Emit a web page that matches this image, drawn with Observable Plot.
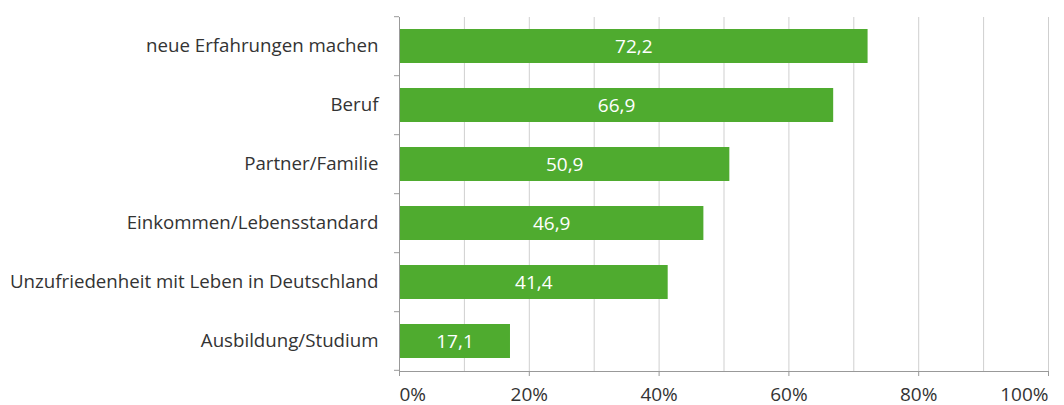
<!DOCTYPE html>
<html>
<head>
<meta charset="utf-8">
<script src="https://cdn.jsdelivr.net/npm/d3@7"></script>
<script src="https://cdn.jsdelivr.net/npm/@observablehq/plot@0.6"></script>
<style>
  html, body { margin: 0; padding: 0; background: #fff; }
  #chart svg { display: block; }
</style>
</head>
<body>
<div id="chart"></div>
<script>
const categories = [
  "neue Erfahrungen machen",
  "Beruf",
  "Partner/Familie",
  "Einkommen/Lebensstandard",
  "Unzufriedenheit mit Leben in Deutschland",
  "Ausbildung/Studium"
];
const values = [72.2, 66.9, 50.9, 46.9, 41.4, 17.1];
const xTicks = [0, 20, 40, 60, 80, 100];
const gridTicks = [10, 20, 30, 40, 50, 60, 70, 80, 90, 100];

const data = categories.map((c, i) => ({category: c, value: values[i]}));
const fmt = v => v.toFixed(1).replace(".", ",");
const pct = v => v + "%";

const GREEN = "#4fab2f";
const TEXT = "#333";
const FONT = "'Open Sans', sans-serif";
const PI = 0.42;

// boundary tick marks on the y axis, derived from the band scale
function bandTicks(index, scales, values, dimensions) {
  const y = scales.y;
  const bw = y.bandwidth();
  const step = bw / (1 - PI);
  const x0 = scales.x(0);
  const g = d3.create("svg:g");
  const ys = [];
  categories.forEach((c, i) => {
    ys.push(y(c) - step * PI / 2);
    if (i === categories.length - 1) ys.push(y(c) + bw + step * PI / 2);
  });
  ys.forEach(v => {
    g.append("line")
      .attr("x1", x0 - 5).attr("x2", x0)
      .attr("y1", v).attr("y2", v)
      .attr("stroke", "#999").attr("stroke-width", 1);
  });
  return g.node();
}

const axisOpts = {tickSize: 5, tickPadding: 11, stroke: "#999", fill: TEXT, fontSize: 19, label: null, tickFormat: pct};

const chart = Plot.plot({
  width: 1064,
  height: 405,
  marginLeft: 399,
  marginRight: 16,
  marginTop: 17,
  marginBottom: 34,
  style: {fontFamily: FONT, fontSize: "18px", color: TEXT, background: "#fff", overflow: "visible"},
  x: {domain: [0, 100]},
  y: {domain: categories, paddingInner: PI, paddingOuter: PI / 2},
  marks: [
    Plot.gridX(gridTicks, {stroke: "#cfcfcf", strokeOpacity: 1}),
    Plot.barX(data, {x: "value", y: "category", fill: GREEN}),
    Plot.text(data, {x: d => d.value / 2, y: "category", text: d => fmt(d.value), fill: "#fff", fontSize: 19, fontFamily: FONT}),
    Plot.ruleX([0], {stroke: "#999"}),
    Plot.frame({anchor: "bottom", stroke: "#999"}),
    Plot.axisY({tickSize: 0, tickPadding: 21, fontSize: 18.7, fill: TEXT, label: null}),
    Plot.axisX([20, 40, 60, 80], axisOpts),
    Plot.axisX([0], {...axisOpts, textAnchor: "start"}),
    Plot.axisX([100], {...axisOpts, textAnchor: "end"}),
    bandTicks
  ]
});
document.getElementById("chart").appendChild(chart);
</script>
</body>
</html>
